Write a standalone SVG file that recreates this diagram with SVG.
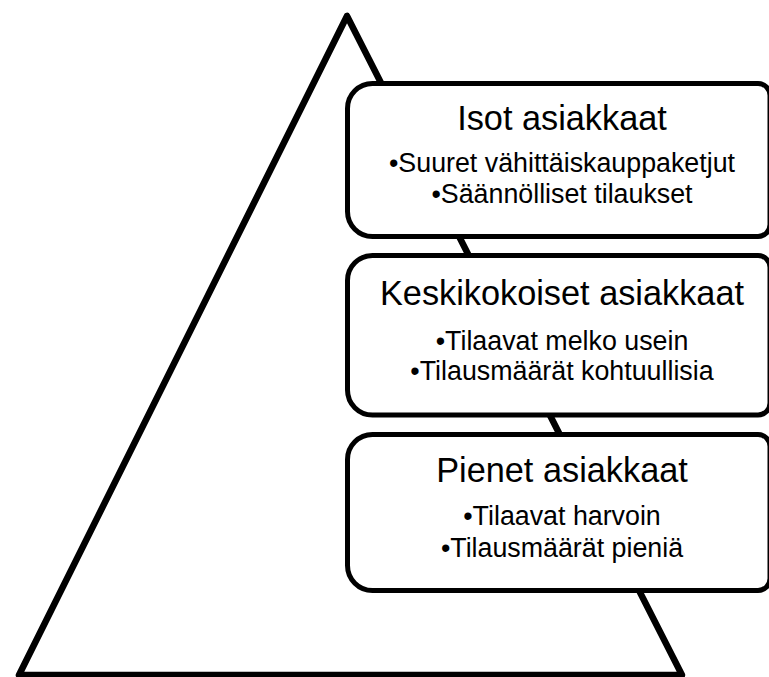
<svg xmlns="http://www.w3.org/2000/svg" width="769" height="677" viewBox="0 0 769 677">
  <style>
    .box { fill: #ffffff; stroke: #000000; stroke-width: 5; }
    .tri { fill: #ffffff; stroke: #000000; stroke-width: 6.5; stroke-linejoin: round; }
    .title { font-family: "Liberation Sans", Arial, sans-serif; font-size: 34.3px; fill: #000000; text-anchor: middle; }
    .item { font-family: "Liberation Sans", Arial, sans-serif; font-size: 26.8px; fill: #000000; text-anchor: middle; }
  </style>
  <rect x="0" y="0" width="769" height="677" fill="#ffffff"/>
  <g id="pyramid">
    <path class="tri" d="M347 16 L19 675 L682 675 Z"/>
  </g>
  <g id="isot-asiakkaat">
    <path class="box" d="M372.5 83.5 H758 A12 12 0 0 1 770 95.5 V224.5 A12 12 0 0 1 758 236.5 H372.5 A25 25 0 0 1 347.5 211.5 V108.5 A25 25 0 0 1 372.5 83.5 Z"/>
    <text class="title" x="562" y="130">Isot asiakkaat</text>
    <text class="item" x="562" y="172">•Suuret vähittäiskauppaketjut</text>
    <text class="item" x="562" y="203">•Säännölliset tilaukset</text>
  </g>
  <g id="keskikokoiset-asiakkaat">
    <path class="box" d="M372.5 255.5 H758 A12 12 0 0 1 770 267.5 V403 A12 12 0 0 1 758 415 H372.5 A25 25 0 0 1 347.5 390 V280.5 A25 25 0 0 1 372.5 255.5 Z"/>
    <text class="title" x="562" y="305">Keskikokoiset asiakkaat</text>
    <text class="item" x="562" y="350">•Tilaavat melko usein</text>
    <text class="item" x="562" y="380">•Tilausmäärät kohtuullisia</text>
  </g>
  <g id="pienet-asiakkaat">
    <path class="box" d="M372.5 434.5 H758 A12 12 0 0 1 770 446.5 V578.5 A12 12 0 0 1 758 590.5 H372.5 A25 25 0 0 1 347.5 565.5 V459.5 A25 25 0 0 1 372.5 434.5 Z"/>
    <text class="title" x="562" y="482">Pienet asiakkaat</text>
    <text class="item" x="562" y="525">•Tilaavat harvoin</text>
    <text class="item" x="562" y="557">•Tilausmäärät pieniä</text>
  </g>
  <g id="connectors"></g>
</svg>
